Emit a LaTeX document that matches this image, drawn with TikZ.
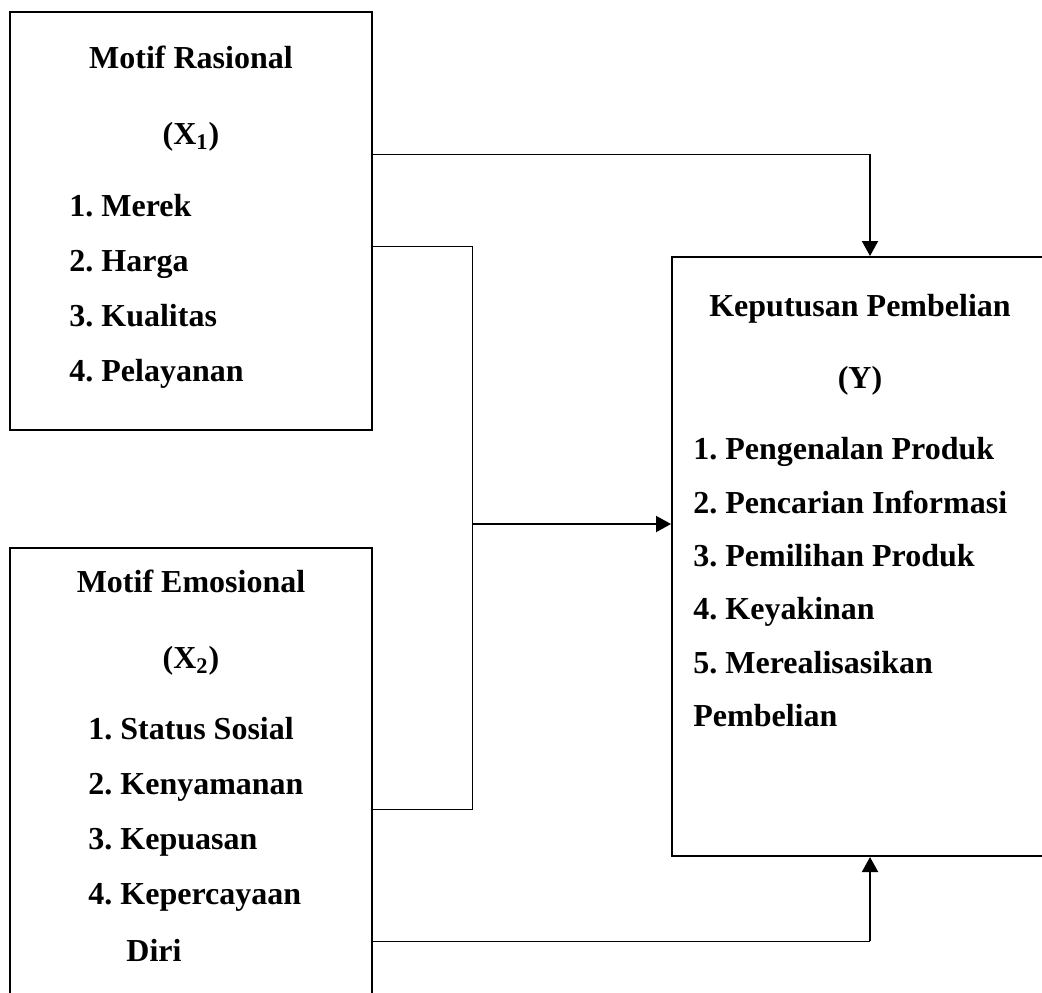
\documentclass[tikz,border=0pt]{standalone}
\usepackage{fontspec}
\setmainfont{Liberation Serif}
\usetikzlibrary{arrows.meta}
\frenchspacing
\begin{document}
\begin{tikzpicture}[x=0.5pt,y=-0.5pt,
  box/.style={draw, line width=1pt, inner sep=0pt},
  lbl/.style={anchor=base, inner sep=0pt, font=\fontsize{16}{20}\selectfont\bfseries},
  item/.style={lbl, anchor=base west},
  wire/.style={line width=0.5pt},
  arrow/.style={line width=1pt, -{Triangle[length=7.5pt,width=8pt]}}]
\useasboundingbox[fill=white] (0,0) rectangle (1042,992);

% boxes
\node[box, minimum width=181pt, minimum height=209pt] (x1) at (191,221) {};
\node[box, minimum width=181pt, minimum height=228pt] (x2) at (191,776) {};
\node[box, minimum width=188pt, minimum height=299.5pt] (y) at (860,556.5) {};

% texts X1
\node[lbl] (x1t) at (191,68) {Motif Rasional};
\node[lbl] (x1v) at (191,144) {(X\textsubscript{1})};
\node[item] (x1a) at (69,216) {1. Merek};
\node[item] (x1b) at (69,271) {2. Harga};
\node[item] (x1c) at (69,326) {3. Kualitas};
\node[item] (x1d) at (69,381) {4. Pelayanan};

% texts X2
\node[lbl] (x2t) at (191,592) {Motif Emosional};
\node[lbl] (x2v) at (191,668) {(X\textsubscript{2})};
\node[item] (x2a) at (88,739) {1. Status Sosial};
\node[item] (x2b) at (88,794) {2. Kenyamanan};
\node[item] (x2c) at (88,849) {3. Kepuasan};
\node[item] (x2d) at (88,904) {4. Kepercayaan};
\node[item] (x2e) at (126,961) {Diri};

% texts Y
\node[lbl] (yt) at (860,316) {Keputusan Pembelian};
\node[lbl] (yv) at (860,388) {(Y)};
\node[item] (ya) at (693,459) {1. Pengenalan Produk};
\node[item] (yb) at (693,513) {2. Pencarian Informasi};
\node[item] (yc) at (693,566) {3. Pemilihan Produk};
\node[item] (yd) at (693,619) {4. Keyakinan};
\node[item] (ye) at (693,673) {5. Merealisasikan};
\node[item] (yf) at (693,726) {Pembelian};

% connectors
\coordinate (c1) at (870,154);
\coordinate (c2) at (472,246);
\coordinate (c3) at (472,809);
\coordinate (cm) at (472,524);
\coordinate (c4) at (870,941);

\draw[wire] (x1.east |- c1) -- (c1);
\draw[arrow] (c1) -- (y.north -| c1);

\draw[wire] (x1.east |- c2) -- (c2) -- (c3) -- (x2.east |- c3);
\draw[arrow] (cm) -- (y.west |- cm);

\draw[wire] (x2.east |- c4) -- (c4);
\draw[arrow] (c4) -- (y.south -| c4);
\end{tikzpicture}
\end{document}
